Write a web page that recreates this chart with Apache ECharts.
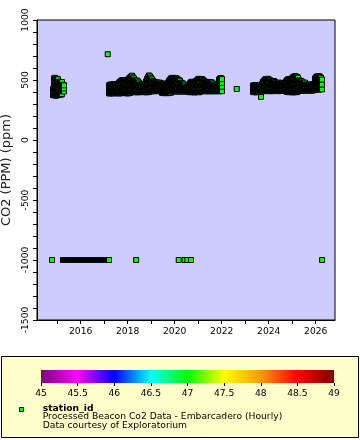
<!DOCTYPE html>
<html><head><meta charset="utf-8">
<script src="https://cdn.jsdelivr.net/npm/echarts@6/dist/echarts.min.js"></script>
<style>html,body{margin:0;padding:0;background:#fff}#c{width:360px;height:440px}</style>
</head><body><div id="c"></div>
<script>
// ---- data (decimal years, CO2 ppm); each column = readings in one ~15.5-day sample ----
const STATION_ID = 47;
const STEP = 0.04255; // sample spacing in years (~15.5 days)

const segAStart = 2014.8208;
const segACols = [[375,400,425],[372,418,466,513],[374,422,470,518],[370,416,462,508],[372,418,464,510],
  [376,420,464,506],[380,416,452,486],[382,414,448,480],[378,412,446,478],[382,416,450,483],
  [406,434,460],[404,430,456]];

const segBStart = 2017.2036;
const segBCols = [
  [390,422,456],[387,424,460],[392,428,463],[394,426,458],[390,425,460],[388,428,466],[392,426,463],[395,424,458],[392,428,463],[390,430,468],
  [387,432,478],[392,440,486],[394,428,460,493],[392,428,462,498],[390,424,460,496],[392,428,464,500],[396,430,462,494],[392,440,488],[390,424,462,498],[388,426,464,503],
  [392,432,472,513],[394,436,478,520],[397,440,484,528],[400,446,490,536],[402,442,482,523],[398,436,474,513],[400,432,466,498],[402,432,462,493],[399,430,464,496],[397,442,488],
  [400,440,478],[402,432,463],[404,432,460],[400,434,466],[398,428,458],[400,432,463],[402,436,468],[400,444,488],[397,434,472,508],[400,440,482,523],
  [402,448,494,538],[404,446,488,530],[407,444,482,518],[410,458,506],[408,450,493],[406,446,486],[410,446,483],[412,446,478],[408,444,480],[407,442,476],
  [410,440,473],[408,444,478],[406,438,470],[394,430,468],[392,428,466],[390,430,470],[392,428,466],[394,428,463],[392,430,468],[390,434,478],
  [392,426,460,493],[396,432,468,503],[394,434,474,513],[404,440,478,516],[406,442,480,518],[408,444,478,513],[406,440,474,508],[404,440,478,516],[407,442,476,510],[408,456,503],
  [406,452,498],[404,448,493],[406,442,478],[408,440,473],[407,438,470],[406,434,463],[404,430,453],[406,440],[408,438],[402,443],
  [400,448],[398,436,473],[400,442,483],[402,444,486],[400,440,480],[398,438,478],[397,440,484],[400,444,488],[402,450,498],[400,436,472,506],
  [398,436,474,510],[402,438,474,508],[406,454,503],[408,444,476,508],[407,454,500],[410,452,493],[408,448,486],[406,446,483],[408,444,480],[410,448,484],
  [407,442,478],[406,440,476],[408,446,482],[410,444,478],[408,440,470],[407,432,458],[406,430,453],[408,450],[410,448],[408,432,456],
  [407,440,472,503],[406,442,478,513],[410,446,482,516],[408,444,476,508]];

const segCStart = 2023.3309;
const segCCols = [
  [400,426,453],[398,428,456],[402,428,454],[400,430,458],[397,424,452],[402,426,448],[407,446],[410,444],[359,404,448],[408,438,468],
  [410,448,486],[408,450,493],[407,456,503],[409,442,476,508],[411,442,474,506],[408,442,476,510],[410,456,504],[407,452,498],[410,450,490],[407,448,488],
  [409,448,486],[412,452,492],[408,446,483],[410,442,476],[409,440,473],[407,440,474],[410,444,478],[412,440,470],[414,444,473],[412,444,476],
  [410,440,468],[414,440,466],[416,442,470],[404,446,488],[402,450,498],[400,436,472,506],[398,434,472,508],[400,434,470,504],[402,438,474,510],[399,438,476,513],
  [397,440,482,523],[400,442,486,528],[402,446,490,532],[398,442,486,528],[400,442,484,526],[407,444,482,518],[410,456,500],[412,452,494],[414,454,492],[416,450,486],
  [412,444,476],[414,444,474],[413,446,478],[416,463],[414,460],[412,458],[414,463],[416,460],[413,456],[412,460],
  [414,463],[416,442,468],[420,466,513],[422,456,490,523],[424,460,496,530],[422,458,494,528],[420,458,496,532],[424,458,492,526],[426,472,518],[422,462,503]];

const isoYears  = [2017.15, 2022.64];
const isoValues = [715, 425];

const flagYears  = [2014.78, 2018.36, 2020.17, 2020.42, 2020.54, 2020.69, 2026.27];
const flagValues = [-1000, -1000, -1000, -1000, -1000, -1000, -1000];
const flagRunStart = 2015.2463;
const flagRunValues = [-1000,-1000,-1000,-1000,-1000,-1000,-1000,-1000,-1000,-1000,
  -1000,-1000,-1000,-1000,-1000,-1000,-1000,-1000,-1000,-1000,
  -1000,-1000,-1000,-1000,-1000,-1000,-1000,-1000,-1000,-1000,
  -1000,-1000,-1000,-1000,-1000,-1000,-1000,-1000,-1000,-1000,
  -1000,-1000,-1000,-1000,-1000,-1000,-1000];

const tickYears  = [2015,2016,2017,2018,2019,2020,2021,2022,2023,2024,2025,2026];
const labelYears = [2016,2018,2020,2022,2024,2026];
const PALETTE = ['#800080','#FF00FF','#0000FF','#00FFFF','#00FF00','#FFFF00','#FF9900','#FF0000','#800000'];

// ---- build ----
const FONT = 'DejaVu Sans';
const pts = [];
function addSeg(start, cols) {
  cols.forEach((col, i) => {
    const t = start + i * STEP;
    col.forEach(v => pts.push([t, v, STATION_ID]));
  });
}
addSeg(segAStart, segACols);
addSeg(segBStart, segBCols);
addSeg(segCStart, segCCols);
isoYears.forEach((t, i) => pts.push([t, isoValues[i], STATION_ID]));
flagYears.forEach((t, i) => pts.push([t, flagValues[i], STATION_ID]));
flagRunValues.forEach((v, i) => pts.push([flagRunStart + i * STEP, v, STATION_ID]));
pts.sort((a, b) => a[0] - b[0]);

const chart = echarts.init(document.getElementById('c'), null, {renderer: 'canvas'});
const gradStops = PALETTE.map((c, i) => ({offset: i / (PALETTE.length - 1), color: c}));
chart.setOption({
  animation: false,
  backgroundColor: '#ffffff',
  grid: [
    {left: 37, top: 20, width: 298, height: 300, show: true, backgroundColor: '#CCCCFF', borderColor: '#000', borderWidth: 1, containLabel: false, outerBoundsMode: 'none'},
    {left: 41, top: 370, width: 293, height: 13, show: false, containLabel: false, outerBoundsMode: 'none'}
  ],
  visualMap: [{show: false, type: 'continuous', seriesIndex: 0, dimension: 2, min: 45, max: 49, inRange: {color: PALETTE}}],
  xAxis: [
    {type: 'value', gridIndex: 0, min: 2014.14, max: 2026.82, position: 'bottom',
     axisLine: {show: true, onZero: false, lineStyle: {color: '#000', width: 1}},
     axisTick: {show: true, customValues: tickYears, length: 4, lineStyle: {color: '#000'}},
     axisLabel: {customValues: labelYears, fontFamily: FONT, fontSize: 9.2, color: '#000', margin: 7, formatter: v => String(v)},
     splitLine: {show: false}},
    {type: 'value', gridIndex: 1, min: 45, max: 49, interval: 0.5,
     axisLine: {show: false, onZero: false},
     axisTick: {show: true, length: 3, lineStyle: {color: '#000'}},
     axisLabel: {fontFamily: FONT, fontSize: 9.2, color: '#000', margin: 6, formatter: v => String(v)},
     splitLine: {show: false}}
  ],
  yAxis: [
    {type: 'value', gridIndex: 0, min: -1500, max: 1000, interval: 500,
     name: 'CO2 (PPM) (ppm)', nameLocation: 'middle', nameGap: 17, nameRotate: 90,
     nameTextStyle: {fontFamily: FONT, fontSize: 13, color: '#222'},
     axisLine: {show: true, onZero: false, lineStyle: {color: '#000', width: 1}},
     axisTick: {show: true, length: 4, lineStyle: {color: '#000'}},
     minorTick: {show: true, splitNumber: 5, length: 4, lineStyle: {color: '#000'}},
     axisLabel: {rotate: 90, fontFamily: FONT, fontSize: 9.2, color: '#000', margin: 7, formatter: v => String(v)},
     splitLine: {show: false}, minorSplitLine: {show: false}},
    {type: 'value', gridIndex: 1, min: 0, max: 1, show: false}
  ],
  series: [{
    type: 'scatter', xAxisIndex: 0, yAxisIndex: 0, data: pts,
    symbol: 'rect', symbolSize: 5, silent: true, progressive: 0, large: false,
    itemStyle: {borderColor: '#000', borderWidth: 1, opacity: 1}
  }],
  graphic: [
    {type: 'rect', shape: {x: 1.5, y: 356.5, width: 357, height: 81}, style: {fill: '#FFFFCC', stroke: '#000', lineWidth: 1}, z: -10},
    {type: 'rect', shape: {x: 41, y: 370, width: 293, height: 13}, style: {fill: new echarts.graphic.LinearGradient(0, 0, 1, 0, gradStops)}, z: 1},
    {type: 'rect', shape: {x: 19.5, y: 407.5, width: 4, height: 4}, style: {fill: PALETTE[4], stroke: '#000', lineWidth: 1}, z: 1},
    {type: 'text', x: 42.7, y: 408.4, style: {text: 'station_id', font: 'bold 9.2px "DejaVu Sans"', fill: '#000', verticalAlign: 'middle'}, z: 1},
    {type: 'text', x: 42.7, y: 416.6, style: {text: 'Processed Beacon Co2 Data - Embarcadero (Hourly)', font: '9.2px "DejaVu Sans"', fill: '#000', verticalAlign: 'middle'}, z: 1},
    {type: 'text', x: 42.7, y: 425.6, style: {text: 'Data courtesy of Exploratorium', font: '9.2px "DejaVu Sans"', fill: '#000', verticalAlign: 'middle'}, z: 1}
  ]
});
</script></body></html>
